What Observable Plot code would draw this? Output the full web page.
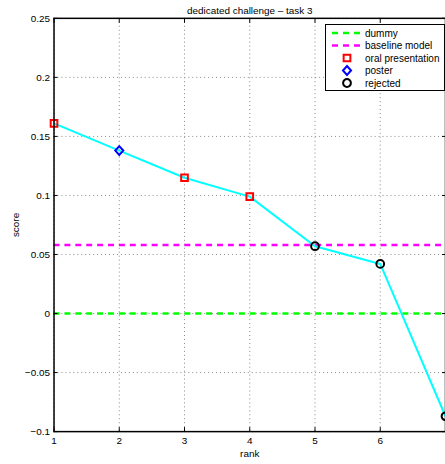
<!DOCTYPE html>
<html><head><meta charset="utf-8">
<script src="https://cdn.jsdelivr.net/npm/d3@7"></script>
<script src="https://cdn.jsdelivr.net/npm/@observablehq/plot@0.6"></script>
<style>
body{margin:0;overflow:hidden;background:#fff;font-family:"Liberation Sans",Arial,sans-serif}
#wrap{position:relative;width:445px;height:464px;overflow:hidden}
#legend{position:absolute;left:325px;top:24px}
</style></head><body><div id="wrap"></div>
<script>
const ranks = [1, 2, 3, 4, 5, 6, 7];
const scores = [0.161, 0.138, 0.115, 0.099, 0.057, 0.042, -0.087];
const status = ["oral presentation", "poster", "oral presentation", "oral presentation", "rejected", "rejected", "rejected"];
const dummyScore = 0;
const baselineScore = 0.058;
const yTicks = [-0.1, -0.05, 0, 0.05, 0.1, 0.15, 0.2, 0.25];
const yTickLabels = ["−0.1", "−0.05", "0", "0.05", "0.1", "0.15", "0.2", "0.25"];
const xTicks = [1, 2, 3, 4, 5, 6, 7];
const xTickLabels = ["1", "2", "3", "4", "5", "6", ""]; // "7" falls outside the cropped figure
const title = "dedicated challenge – task 3";
const legendNames = ["dummy", "baseline model", "oral presentation", "poster", "rejected"];

const diamond = {draw(ctx, size) { const h = Math.sqrt(size / 2); ctx.moveTo(0, -h * 1.05); ctx.lineTo(h * 0.95, 0); ctx.lineTo(0, h * 1.05); ctx.lineTo(-h * 0.95, 0); ctx.closePath(); }};
const statusColor = {"oral presentation": "#ff0000", "poster": "#0000ff", "rejected": "#000000"};
const statusSymbol = {"oral presentation": d3.symbolSquare, "poster": diamond, "rejected": d3.symbolCircle};
const statusR = {"oral presentation": 3.8, "poster": 3.4, "rejected": 3.9};

const data = ranks.map((r, i) => ({rank: r, score: scores[i], status: status[i]}));
const fmt = d => yTickLabels[yTicks.indexOf(d)];
const font = {fontFamily: '"Liberation Sans", Arial, sans-serif'};

const plot = Plot.plot({
  width: 449, height: 464,
  marginLeft: 54, marginRight: 0, marginTop: 18, marginBottom: 29,
  style: {fontSize: "10px", ...font, background: "#fff", color: "#000"},
  x: {domain: [1, 7]},
  y: {domain: [-0.1, 0.25]},
  marks: [
    Plot.gridX(xTicks, {stroke: "#888", strokeOpacity: 1, strokeDasharray: "1,3", strokeWidth: 1}),
    Plot.gridY(yTicks, {stroke: "#888", strokeOpacity: 1, strokeDasharray: "1,3", strokeWidth: 1}),
    Plot.ruleY([dummyScore], {stroke: "#00ff00", strokeWidth: 2.5, strokeDasharray: "6,5"}),
    Plot.ruleY([baselineScore], {stroke: "#ff00ff", strokeWidth: 2.5, strokeDasharray: "6,5"}),
    Plot.line(data, {x: "rank", y: "score", stroke: "#00ffff", strokeWidth: 2}),
    ...["oral presentation", "poster", "rejected"].map(s =>
      Plot.dot(data.filter(d => d.status === s), {x: "rank", y: "score", symbol: statusSymbol[s], r: statusR[s], stroke: statusColor[s], strokeWidth: 2, fill: "none"})),
    Plot.axisY(yTicks, {tickSize: 0, tickPadding: 4, tickFormat: fmt, label: "score", labelAnchor: "center", labelArrow: "none", labelOffset: 42}),
    Plot.axisY(yTicks, {tickSize: -4, tickFormat: () => "", label: null}),
    Plot.axisY(yTicks, {anchor: "right", tickSize: -4, tickFormat: () => "", label: null}),
    Plot.axisX(xTicks, {tickSize: 0, tickPadding: 5, tickFormat: d => xTickLabels[xTicks.indexOf(d)], label: "rank", labelAnchor: "center", labelArrow: "none", labelOffset: 26}),
    Plot.axisX(xTicks, {tickSize: -4, tickFormat: () => "", label: null}),
    Plot.axisX(xTicks, {anchor: "top", tickSize: -4, tickFormat: () => "", label: null}),
    Plot.frame({stroke: "#000", strokeWidth: 1.5}),
    Plot.text([title], {frameAnchor: "top", dy: -11, fontSize: 10, fill: "#000"})
  ]
});
document.getElementById("wrap").appendChild(plot);

// legend
const lw = 120, lh = 67;
const leg = d3.select("#wrap").append("svg").attr("id", "legend").attr("width", lw).attr("height", lh)
  .style("font-family", '"Liberation Sans", Arial, sans-serif').style("font-size", "10px");
leg.append("rect").attr("x", 0.5).attr("y", 0.5).attr("width", lw - 1).attr("height", lh - 1).attr("fill", "#fff").attr("stroke", "#000").attr("stroke-width", 1);
const rowY = i => 9 + i * 12.5;
const legColors = ["#00ff00", "#ff00ff"];
legendNames.forEach((name, i) => {
  const y = rowY(i);
  if (i < 2) {
    leg.append("line").attr("x1", 7).attr("x2", 37).attr("y1", y).attr("y2", y)
      .attr("stroke", legColors[i]).attr("stroke-width", 2.5).attr("stroke-dasharray", "6,5");
  } else {
    const r = statusR[name];
    leg.append("path").attr("d", d3.symbol(statusSymbol[name], Math.PI * r * r)()).attr("transform", `translate(22,${y})`)
      .attr("fill", "none").attr("stroke", statusColor[name]).attr("stroke-width", 2);
  }
  leg.append("text").attr("x", 40).attr("y", y).attr("dy", "0.35em").text(name);
});
</script></body></html>
